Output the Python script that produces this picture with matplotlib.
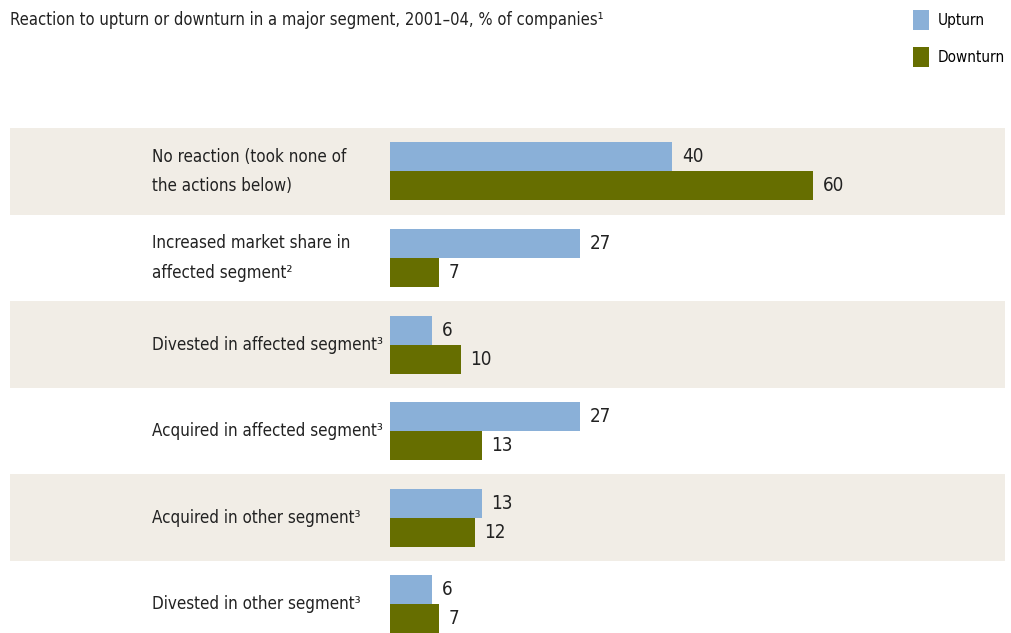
import matplotlib.pyplot as plt
import numpy as np

# Chart data
categories = [
    "No reaction (took none of\nthe actions below)",
    "Increased market share in\naffected segment\u00b2",
    "Divested in affected segment\u00b3",
    "Acquired in affected segment\u00b3",
    "Acquired in other segment\u00b3",
    "Divested in other segment\u00b3",
]
upturn = [40, 27, 6, 27, 13, 6]
downturn = [60, 7, 10, 13, 12, 7]

up_color = "#8AB0D8"
down_color = "#666E00"
band_color = "#F1EDE6"

plt.rcParams["font.family"] = ["DejaVu Sans"]
plt.rcParams["font.stretch"] = "condensed"

fig = plt.figure(figsize=(10.11, 6.33), dpi=100)

# axes spans the table area, bars start at x = 390 px
ax = fig.add_axes([10 / 1011, 0, 995 / 1011, 505 / 633])
px_per_unit = 7.05
ax.set_xlim(-(390 - 10) / px_per_unit, (1005 - 390) / px_per_unit)
ax.set_ylim(5.33, -0.5)

y = np.arange(len(categories))
h = 0.335

# shaded bands on every other row
for i in y:
    if i % 2 == 0:
        ax.axhspan(i - 0.5, i + 0.5, color=band_color, zorder=0, lw=0)

b1 = ax.barh(y - h / 2, upturn, height=h, color=up_color, label="Upturn", zorder=2)
b2 = ax.barh(y + h / 2, downturn, height=h, color=down_color, label="Downturn", zorder=2)

ax.bar_label(b1, padding=7, fontsize=13.5, color="#222222")
ax.bar_label(b2, padding=7, fontsize=13.5, color="#222222")

label_x = (152 - 390) / px_per_unit
for i, cat in enumerate(categories):
    ax.text(label_x, i, cat, ha="left", va="center", fontsize=12.2,
            color="#222222", linespacing=1.8)

ax.set_xticks([])
ax.set_yticks([])
for s in ax.spines.values():
    s.set_visible(False)
ax.patch.set_alpha(0)

fig.text(10 / 1011, 1 - 20 / 633,
         "Reaction to upturn or downturn in a major segment, 2001\u201304, % of companies\u00b9",
         ha="left", va="center", fontsize=11.9, color="#222222")

fig.legend(handles=[b1, b2], loc="upper left", bbox_to_anchor=(905 / 1011, 1 - 2 / 633),
           frameon=False, fontsize=11, handlelength=1.1, handleheight=1.65,
           handletextpad=0.55, labelspacing=1.15, borderpad=0)

fig.savefig("out.png", dpi=100)
